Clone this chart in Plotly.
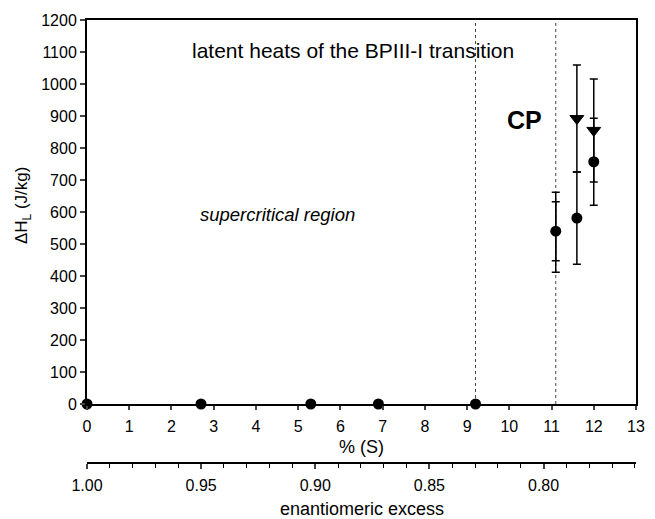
import plotly.graph_objects as go

# ---- data ----
pct_circle = [0, 2.7, 5.3, 6.9, 9.2, 11.1, 11.6, 12.0]
dh_circle = [0, 0, 0, 0, 0, 540, 581, 757]
err_circle = [0, 0, 0, 0, 0, 92, 144, 136]

pct_tri = [11.1, 11.6, 12.0]
dh_tri = [537, 892, 855]
err_tri = [125, 167, 161]
tri_sizes = [0, 12, 12]  # first triangle hidden behind the circle

boundaries = [9.2, 11.1]

x_ticks = list(range(0, 14))
y_ticks = list(range(0, 1300, 100))
ee_range = [1.0, 0.7595]

FONT = "Liberation Sans, Arial, sans-serif"

fig = go.Figure()

# carrier trace so the enantiomeric-excess axis is drawn
fig.add_trace(go.Scatter(
    x=ee_range, y=[None, None], xaxis="x2", yaxis="y", mode="lines",
    line=dict(width=0), hoverinfo="skip", showlegend=False))

fig.add_trace(go.Scatter(
    x=pct_tri, y=dh_tri, mode="markers", opacity=1,
    marker=dict(symbol="triangle-down", size=tri_sizes, color="#000000",
                opacity=1, line=dict(width=1, color="#000000")),
    error_y=dict(type="data", array=err_tri, visible=True, color="black",
                 thickness=1.5, width=4),
    cliponaxis=False, showlegend=False))

fig.add_trace(go.Scatter(
    x=pct_circle, y=dh_circle, mode="markers",
    marker=dict(symbol="circle", size=11, color="black"),
    error_y=dict(type="data", array=err_circle, visible=True, color="black",
                 thickness=1.5, width=4),
    cliponaxis=False, showlegend=False))

for b in boundaries:
    fig.add_shape(type="line", xref="x", yref="y", x0=b, x1=b, y0=0, y1=1200,
                  line=dict(color="#444", width=1, dash="dot"), layer="below")

dom_bottom = (463 - 404) / 443.0

fig.update_layout(
    width=655, height=519,
    margin=dict(l=87, r=10, t=20, b=56),
    paper_bgcolor="white", plot_bgcolor="white",
    font=dict(family=FONT, size=16, color="black"),
    xaxis=dict(range=[0, 13], tickvals=x_ticks, ticks="outside", ticklen=4,
               tickwidth=1.5, showline=True, linewidth=1.5, linecolor="black",
               mirror=True, showgrid=False, zeroline=False,
               tickfont=dict(size=16), anchor="y", ticklabelstandoff=3),
    yaxis=dict(range=[0, 1200], tickvals=y_ticks, ticks="outside", ticklen=5,
               tickwidth=1.5, showline=True, linewidth=2, linecolor="black",
               mirror=True, showgrid=False, zeroline=False,
               domain=[dom_bottom, 1], tickfont=dict(size=16)),
    xaxis2=dict(range=ee_range, overlaying="x", anchor="free", position=0,
                side="bottom", dtick=0.05, tick0=0, tickformat=".2f",
                ticks="outside", ticklen=5, tickwidth=1.5,
                minor=dict(dtick=0.01, ticks="outside", ticklen=4, tickwidth=1.2,
                           tickcolor="black", showgrid=False),
                showline=True, linewidth=1.5, linecolor="black",
                showgrid=False, zeroline=False, tickfont=dict(size=16),
                ticklabelstandoff=3),
)

def paper_y(p):
    return (463 - p) / 443.0

fig.add_annotation(text="latent heats of the BPIII-I transition", x=6.29, y=1106,
                   xref="x", yref="y", showarrow=False, font=dict(size=21))
fig.add_annotation(text="<b>CP</b>", x=10.36, y=887, xref="x", yref="y",
                   showarrow=False, font=dict(size=25))
fig.add_annotation(text="<i>supercritical region</i>", x=4.52, y=591,
                   xref="x", yref="y", showarrow=False, font=dict(size=18.5))
fig.add_annotation(text="% (S)", x=0.5, y=paper_y(447), xref="paper", yref="paper",
                   xanchor="center", yanchor="middle", showarrow=False,
                   font=dict(size=18))
fig.add_annotation(text="enantiomeric excess", x=0.5, y=paper_y(509), xref="paper",
                   yref="paper", xanchor="center", yanchor="middle",
                   showarrow=False, font=dict(size=18))
fig.add_annotation(text="ΔH<sub>L</sub> (J/kg)", x=(22 - 87) / 558.0, y=paper_y(205),
                   xref="paper", yref="paper", xanchor="center", yanchor="middle",
                   showarrow=False, textangle=-90, font=dict(size=17))

fig.write_html("out.html")
